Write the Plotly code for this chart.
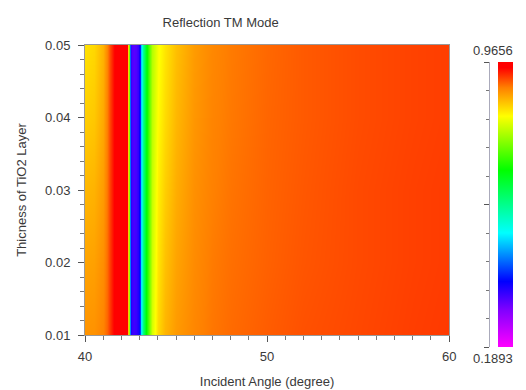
import plotly.graph_objects as go

# Incident angle samples (degrees) and TiO2 layer thickness samples
angles = [40.0, 40.5, 41.0, 41.2, 41.4, 41.6, 41.8, 42.0, 42.2, 42.3, 42.4, 42.45,
          42.5, 42.6, 42.7, 42.8, 42.9, 43.0, 43.1, 43.2, 43.35, 43.5, 43.7, 44.0,
          44.4, 45.0, 46.0, 47.0, 48.0, 50.0, 52.0, 55.0, 58.0, 60.0]
thickness = [0.01, 0.02, 0.03, 0.04, 0.05]

# TM-mode reflectance, one row per thickness
refl_t001 = [0.884, 0.885, 0.894, 0.908, 0.928, 0.952, 0.963, 0.9656, 0.962, 0.950, 0.760, 0.440,
             0.350, 0.335, 0.330, 0.335, 0.350, 0.400, 0.490, 0.585, 0.670, 0.735, 0.795, 0.842,
             0.864, 0.880, 0.892, 0.900, 0.905, 0.911, 0.916, 0.920, 0.924, 0.926]
refl_t002 = [0.874, 0.876, 0.887, 0.904, 0.926, 0.951, 0.963, 0.9655, 0.962, 0.950, 0.755, 0.435,
             0.346, 0.331, 0.326, 0.331, 0.346, 0.396, 0.486, 0.581, 0.666, 0.731, 0.790, 0.834,
             0.856, 0.874, 0.889, 0.898, 0.903, 0.909, 0.914, 0.919, 0.923, 0.925]
refl_t003 = [0.862, 0.865, 0.879, 0.900, 0.924, 0.950, 0.963, 0.9655, 0.962, 0.950, 0.750, 0.430,
             0.342, 0.327, 0.322, 0.327, 0.342, 0.392, 0.482, 0.577, 0.662, 0.727, 0.785, 0.828,
             0.848, 0.868, 0.886, 0.895, 0.901, 0.908, 0.913, 0.919, 0.923, 0.925]
refl_t004 = [0.848, 0.852, 0.871, 0.896, 0.922, 0.949, 0.963, 0.9655, 0.962, 0.950, 0.745, 0.425,
             0.338, 0.323, 0.318, 0.323, 0.338, 0.388, 0.478, 0.573, 0.658, 0.723, 0.780, 0.820,
             0.840, 0.862, 0.882, 0.893, 0.899, 0.907, 0.912, 0.918, 0.922, 0.924]
refl_t005 = [0.836, 0.842, 0.865, 0.892, 0.920, 0.948, 0.963, 0.9655, 0.962, 0.950, 0.740, 0.420,
             0.334, 0.319, 0.314, 0.319, 0.334, 0.384, 0.474, 0.569, 0.654, 0.719, 0.775, 0.814,
             0.834, 0.857, 0.879, 0.891, 0.898, 0.906, 0.912, 0.918, 0.922, 0.924]
reflectance = [refl_t001, refl_t002, refl_t003, refl_t004, refl_t005]

z_min = 0.1893
z_max = 0.9656

rainbow = [
    [0.00, "#ff00ff"],
    [0.13, "#8000ff"],
    [0.23, "#0000ff"],
    [0.40, "#00ffff"],
    [0.62, "#00ff00"],
    [0.81, "#ffff00"],
    [0.91, "#ff8000"],
    [0.98, "#ff0000"],
    [1.00, "#ff0000"],
]

W, H = 526, 390
ML, MR, MT, MB = 85, 0, 40, 35
pw, ph = W - ML - MR, H - MT - MB


def px_x(p):
    return (p - ML) / pw


def px_y(p):
    return (H - MB - p) / ph


font_family = "Liberation Sans, Arial, sans-serif"
text_col = "#3a3a3a"
fs = 13

fig = go.Figure()
fig.add_trace(go.Heatmap(
    x=angles, y=thickness, z=reflectance,
    zmin=z_min, zmax=z_max, zsmooth="best",
    colorscale=rainbow,
    colorbar=dict(
        x=px_x(505), xanchor="left", xpad=0,
        y=px_y(347), yanchor="bottom", ypad=0,
        len=(347 - 62) / ph, lenmode="fraction",
        thickness=15, thicknessmode="pixels",
        outlinewidth=0, ticks="", showticklabels=False,
    ),
    hoverinfo="skip",
))

# tick scale drawn beside the colour bar
fig.add_trace(go.Scatter(x=[], y=[], xaxis="x2", yaxis="y2", showlegend=False,
                         hoverinfo="skip"))

fig.update_layout(
    width=W, height=H,
    margin=dict(l=ML, r=MR, t=MT, b=MB),
    paper_bgcolor="white", plot_bgcolor="white",
    font=dict(family=font_family, size=fs, color=text_col),
    title=dict(text="Reflection TM Mode", x=px_x(270), xanchor="center",
               y=1 - 22 / H, yanchor="middle",
               font=dict(size=fs, color=text_col)),
    xaxis=dict(
        domain=[0, px_x(455)], range=[40, 60],
        tickvals=[40, 50, 60], ticks="outside", ticklen=6, tickcolor="#555",
        minor=dict(dtick=1, ticks="outside", ticklen=4, tickcolor="#777"),
        showline=True, linecolor="#999", mirror=True, showgrid=False, zeroline=False,
        ticklabelstandoff=3,
        title=dict(text="Incident Angle (degree)", standoff=14, font=dict(size=fs)),
    ),
    yaxis=dict(
        domain=[px_y(335), px_y(45)], range=[0.01, 0.05],
        tickvals=[0.01, 0.02, 0.03, 0.04, 0.05], tickformat=".2f",
        ticks="outside", ticklen=6, tickcolor="#555",
        minor=dict(dtick=0.002, ticks="outside", ticklen=4, tickcolor="#777"),
        showline=True, linecolor="#999", mirror=True, showgrid=False, zeroline=False,
        ticklabelstandoff=5,
        title=dict(text="Thicness of TiO2 Layer", standoff=15, font=dict(size=fs)),
    ),
    xaxis2=dict(domain=[px_x(497), px_x(500)], anchor="y2", visible=False,
                range=[0, 1]),
    yaxis2=dict(
        domain=[px_y(347), px_y(62)], anchor="x2", side="left",
        range=[z_min, z_max], tick0=z_min, dtick=(z_max - z_min) / 2,
        ticks="outside", ticklen=5, tickcolor="#555", showticklabels=False,
        minor=dict(tick0=z_min, dtick=(z_max - z_min) / 10, ticks="outside",
                   ticklen=3, tickcolor="#777"),
        showline=True, linecolor="#aab", showgrid=False, zeroline=False,
    ),
    annotations=[
        dict(text=f"{z_max:.4f}", x=px_x(500), y=px_y(50), xref="paper", yref="paper",
             showarrow=False, xanchor="center", yanchor="middle",
             font=dict(size=fs, color=text_col)),
        dict(text=f"{z_min:.4f}", x=px_x(500), y=px_y(358), xref="paper", yref="paper",
             showarrow=False, xanchor="center", yanchor="middle",
             font=dict(size=fs, color=text_col)),
    ],
)

fig.write_html("out.html")
